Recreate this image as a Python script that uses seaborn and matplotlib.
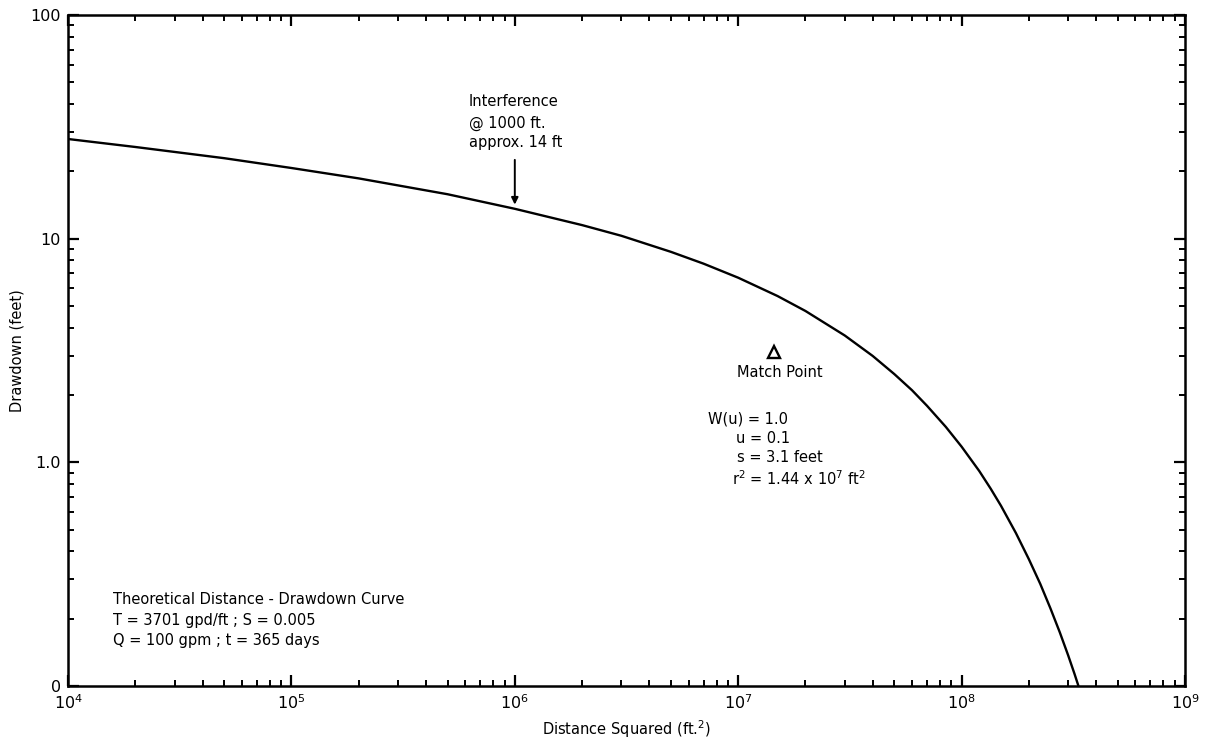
import matplotlib
matplotlib.use("Agg")
import matplotlib.pyplot as plt
import matplotlib.ticker as mticker
import seaborn as sns
import pandas as pd

# ---- data (distance squared vs drawdown) ----
r2_ft2 = [1e4, 2e4, 5e4, 1e5, 2e5, 5e5, 1e6, 2e6, 3e6, 5e6, 7e6, 1e7, 1.5e7,
          2e7, 3e7, 4e7, 5e7, 6e7, 7e7, 8.5e7, 1e8, 1.2e8, 1.35e8, 1.5e8,
          1.75e8, 2e8, 2.25e8, 2.5e8, 2.75e8, 3e8, 3.2e8, 3.335e8]
drawdown_ft = [27.9, 25.7, 22.9, 20.7, 18.6, 15.8, 13.6, 11.5, 10.3, 8.73, 7.73,
               6.69, 5.54, 4.75, 3.69, 2.99, 2.48, 2.10, 1.79, 1.44, 1.175,
               0.914, 0.762, 0.640, 0.483, 0.369, 0.286, 0.222, 0.174, 0.137,
               0.1135, 0.1]

x_ticks = [1e4, 1e5, 1e6, 1e7, 1e8, 1e9]
x_tick_labels = [r"$10^4$", r"$10^5$", r"$10^6$", r"$10^7$", r"$10^8$", r"$10^9$"]
y_ticks = [0.1, 1.0, 10, 100]
y_tick_labels = ["0", "1.0", "10", "100"]

match_r2 = 1.44e7
match_s = 3.1
interf_r2 = 1e6
interf_s = 14.2

sns.set_theme(style="ticks")
plt.rcParams["font.family"] = ["DejaVu Sans"]
plt.rcParams["mathtext.fontset"] = "dejavusans"
plt.rcParams["text.color"] = "black"
plt.rcParams["axes.labelcolor"] = "black"

fig = plt.figure(figsize=(12.16, 7.46), dpi=100)
ax = fig.add_axes([68 / 1216, 1 - 686 / 746, (1185 - 68) / 1216, (686 - 15) / 746])

df = pd.DataFrame({"r2": r2_ft2, "s": drawdown_ft})
sns.lineplot(data=df, x="r2", y="s", ax=ax, color="black", linewidth=1.7,
             sort=False, estimator=None)

ax.set_xscale("log")
ax.set_yscale("log")
ax.set_xlim(1e4, 1e9)
ax.set_ylim(0.1, 100)

ax.xaxis.set_major_locator(mticker.FixedLocator(x_ticks))
ax.xaxis.set_major_formatter(mticker.FixedFormatter(x_tick_labels))
ax.yaxis.set_major_locator(mticker.FixedLocator(y_ticks))
ax.yaxis.set_major_formatter(mticker.FixedFormatter(y_tick_labels))
ax.xaxis.set_minor_locator(mticker.LogLocator(base=10, subs=range(2, 10), numticks=20))
ax.yaxis.set_minor_locator(mticker.LogLocator(base=10, subs=range(2, 10), numticks=20))
ax.xaxis.set_minor_formatter(mticker.NullFormatter())
ax.yaxis.set_minor_formatter(mticker.NullFormatter())

ax.tick_params(which="both", direction="in", top=True, right=True, colors="black",
               labelsize=11.5)
ax.tick_params(which="major", length=8, width=1.6, pad=5)
ax.tick_params(which="minor", length=4.5, width=1.4)
for sp in ax.spines.values():
    sp.set_visible(True)
    sp.set_linewidth(1.8)
    sp.set_color("black")

ax.set_xlabel("Distance Squared (ft.$^2$)", fontsize=10.5, labelpad=5, color="black")
ax.set_ylabel("Drawdown (feet)", fontsize=10.5, labelpad=4, color="black")

def fx(px):
    return (px - 68) / (1185 - 68)

def fy(py):
    return (686 - py) / (686 - 15)

fs = 10.5
# Interference annotation
for txt, py in [("Interference", 102), ("@ 1000 ft.", 123), ("approx. 14 ft", 143)]:
    ax.text(fx(469), fy(py), txt, transform=ax.transAxes, ha="left", va="center",
            fontsize=fs, color="black")
ax.annotate("", xy=(interf_r2, interf_s), xytext=(interf_r2, 22.5),
            arrowprops=dict(arrowstyle="-|>", color="black", lw=1.4,
                            mutation_scale=10, shrinkA=0, shrinkB=0))

# Match point
ax.plot([match_r2], [match_s], marker="^", markersize=9, markerfacecolor="white",
        markeredgecolor="black", markeredgewidth=1.7, linestyle="none")
ax.text(fx(780), fy(373), "Match Point", transform=ax.transAxes, ha="center",
        va="center", fontsize=fs, color="black")
for txt, px, py in [("W(u) = 1.0", 708, 419), ("u = 0.1", 736, 439),
                    ("s = 3.1 feet", 737, 458),
                    (r"r$^2$ = 1.44 x 10$^7$ ft$^2$", 732, 479)]:
    ax.text(fx(px), fy(py), txt, transform=ax.transAxes, ha="left", va="center",
            fontsize=fs, color="black")

# Bottom-left caption
for txt, py in [("Theoretical Distance - Drawdown Curve", 600),
                ("T = 3701 gpd/ft ; S = 0.005", 621),
                ("Q = 100 gpm ; t = 365 days", 641)]:
    ax.text(fx(113), fy(py), txt, transform=ax.transAxes, ha="left", va="center",
            fontsize=fs, color="black")

fig.savefig("out.png", dpi=100, facecolor="white")
